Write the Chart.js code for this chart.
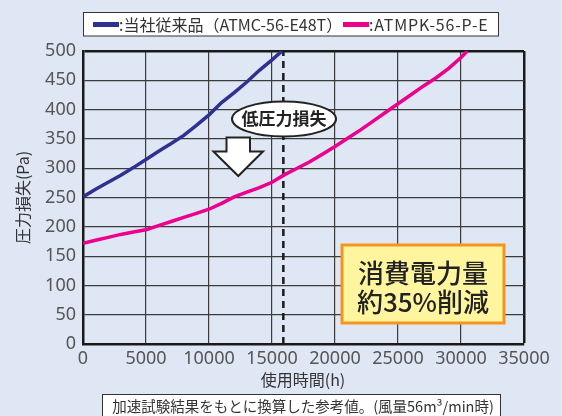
<!DOCTYPE html>
<html>
<head>
<meta charset="utf-8">
<script src="https://cdn.jsdelivr.net/npm/chart.js@4.4.1/dist/chart.umd.min.js"></script>
<style>
  html, body { margin: 0; padding: 0; background: #dfe7f4; }
  #wrap { width: 562px; height: 416px; }
</style>
</head>
<body>
<div id="wrap"><canvas id="chart" width="562" height="416"></canvas></div>
<script>
// values
const oldHours  = [0, 1000, 2000, 3000, 4000, 5000, 6000, 7000, 8000, 9000, 10000, 11000, 12000, 13000, 14000, 15000, 15800];
const oldValues = [251, 264, 276, 288, 301, 315, 329, 342, 356, 373, 391, 412, 429, 447, 467, 485, 500];

const newHours  = [0, 1000, 2000, 3000, 4000, 5000, 6000, 7000, 8000, 9000, 10000, 11000, 12000, 13000, 14000, 15000,
                   16000, 17000, 18000, 19000, 20000, 21000, 22000, 23000, 24000, 25000, 26000, 27000, 28000, 29000, 30000, 30500];
const newValues = [172, 177, 182, 187, 191, 195, 202, 209, 216, 223, 230, 240, 251, 259, 267, 276,
                   289, 300, 311, 324, 337, 351, 365, 380, 395, 410, 425, 440, 454, 470, 489, 500];

const markerHour = 15900;
const seriesNames = [':当社従来品（ATMC-56-E48T）', ':ATMPK-56-P-E'];
const xTitle = '使用時間(h)';
const yTitle = '圧力損失(Pa)';
const note = '加速試験結果をもとに換算した参考値。(風量56m³/min時)';
const badge = ['消費電力量', '約35%削減'];
const bubble = '低圧力損失';

const BLUE = '#2e3192';
const PINK = '#ec008c';
const JP = '"Noto Sans CJK JP", "Noto Sans", sans-serif';

function toPoints(xs, ys) {
  return xs.map((x, i) => ({ x: x, y: ys[i] }));
}

// background, legend box, notes, arrow etc.
const decorations = {
  id: 'decorations',
  beforeDraw(chart) {
    const ctx = chart.ctx;
    ctx.save();
    ctx.fillStyle = '#dfe7f4';
    ctx.fillRect(0, 0, chart.width, chart.height);
    ctx.restore();
  },
  afterDraw(chart) {
    const ctx = chart.ctx;
    const area = chart.chartArea;
    ctx.save();

    // legend
    ctx.fillStyle = '#ffffff';
    ctx.fillRect(83.5, 12.5, 415, 23.5);
    ctx.strokeStyle = '#333';
    ctx.lineWidth = 1;
    ctx.strokeRect(83.5, 12.5, 415, 23.5);
    ctx.lineWidth = 5;
    ctx.strokeStyle = BLUE;
    ctx.beginPath(); ctx.moveTo(93, 24.5); ctx.lineTo(119, 24.5); ctx.stroke();
    ctx.strokeStyle = PINK;
    ctx.beginPath(); ctx.moveTo(343, 24.5); ctx.lineTo(369, 24.5); ctx.stroke();
    ctx.fillStyle = '#333';
    ctx.font = '16px ' + JP;
    ctx.textBaseline = 'middle';
    ctx.textAlign = 'left';
    ctx.fillText(seriesNames[0], 119, 25);
    ctx.letterSpacing = '0.8px';
    ctx.fillText(seriesNames[1], 369, 25);
    ctx.letterSpacing = '0px';

    // axis titles
    ctx.font = '16px ' + JP;
    ctx.textAlign = 'center';
    ctx.fillText(xTitle, 303, 380);
    ctx.save();
    ctx.translate(23, (area.top + area.bottom) / 2);
    ctx.rotate(-Math.PI / 2);
    ctx.fillText(yTitle, 0, 0);
    ctx.restore();

    // note box at the bottom
    ctx.fillStyle = '#ffffff';
    ctx.fillRect(102.5, 394.5, 398, 24);
    ctx.strokeStyle = '#333';
    ctx.lineWidth = 1;
    ctx.strokeRect(102.5, 394.5, 398, 24);
    ctx.fillStyle = '#333';
    ctx.font = '14.5px ' + JP;
    ctx.fillText(note, 303, 406);

    // speech ellipse
    ctx.beginPath();
    ctx.ellipse(284, 119, 52, 17.5, 0, 0, Math.PI * 2);
    ctx.fillStyle = '#ffffff';
    ctx.fill();
    ctx.lineWidth = 2;
    ctx.strokeStyle = '#222';
    ctx.stroke();
    ctx.fillStyle = '#222';
    ctx.font = 'bold 17px ' + JP;
    ctx.fillText(bubble, 284, 119);

    // down arrow
    ctx.beginPath();
    ctx.moveTo(226.5, 137.5);
    ctx.lineTo(250, 137.5);
    ctx.lineTo(250, 151.5);
    ctx.lineTo(263, 151.5);
    ctx.lineTo(238.3, 176);
    ctx.lineTo(213.5, 151.5);
    ctx.lineTo(226.5, 151.5);
    ctx.closePath();
    ctx.fillStyle = '#ffffff';
    ctx.fill();
    ctx.lineWidth = 2;
    ctx.strokeStyle = '#222';
    ctx.stroke();

    // yellow badge
    ctx.fillStyle = '#fff59e';
    ctx.fillRect(342, 245, 162, 78);
    ctx.lineWidth = 3;
    ctx.strokeStyle = '#f7941d';
    ctx.strokeRect(342, 245, 162, 78);
    ctx.fillStyle = '#222';
    ctx.font = '500 26px ' + JP;
    ctx.fillText(badge[0], 423, 273);
    ctx.fillText(badge[1], 423, 302);

    ctx.restore();
  }
};

const edgeColor = (ctx, edge) => (ctx.tick && ctx.tick.value === edge ? '#1a1a1a' : '#3c3c3c');
const edgeWidth = (ctx, edge) => (ctx.tick && ctx.tick.value === edge ? 2.5 : 1.2);

new Chart(document.getElementById('chart'), {
  type: 'line',
  data: {
    datasets: [
      {
        label: seriesNames[0],
        data: toPoints(oldHours, oldValues),
        borderColor: BLUE,
        borderWidth: 3.5,
        pointRadius: 0,
        tension: 0
      },
      {
        label: seriesNames[1],
        data: toPoints(newHours, newValues),
        borderColor: PINK,
        borderWidth: 3.5,
        pointRadius: 0,
        tension: 0
      },
      {
        label: 'marker',
        data: [{ x: markerHour, y: 0 }, { x: markerHour, y: 500 }],
        borderColor: '#1a1a1a',
        borderWidth: 2.5,
        borderDash: [7, 5],
        pointRadius: 0
      }
    ]
  },
  options: {
    responsive: false,
    animation: false,
    layout: { padding: { top: 51, right: 38, left: 0, bottom: 0 } },
    plugins: {
      legend: { display: false },
      tooltip: { enabled: false }
    },
    scales: {
      x: {
        type: 'linear',
        min: 0,
        max: 35000,
        afterFit: (scale) => { scale.height = 72; },
        ticks: {
          stepSize: 5000,
          callback: (v) => String(v),
          color: '#555',
          padding: 4,
          maxRotation: 0,
          font: { family: 'Noto Sans', size: 18 }
        },
        grid: {
          drawTicks: false,
          color: (ctx) => edgeColor(ctx, 35000),
          lineWidth: (ctx) => edgeWidth(ctx, 35000)
        },
        border: { color: '#1a1a1a', width: 2.5 }
      },
      y: {
        min: 0,
        max: 500,
        afterFit: (scale) => { scale.width = 83; },
        ticks: {
          stepSize: 50,
          color: '#555',
          padding: 7,
          font: { family: 'Noto Sans', size: 18 }
        },
        grid: {
          drawTicks: false,
          color: (ctx) => edgeColor(ctx, 500),
          lineWidth: (ctx) => edgeWidth(ctx, 500)
        },
        border: { color: '#1a1a1a', width: 2.5 }
      }
    }
  },
  plugins: [decorations]
});
</script>
</body>
</html>
